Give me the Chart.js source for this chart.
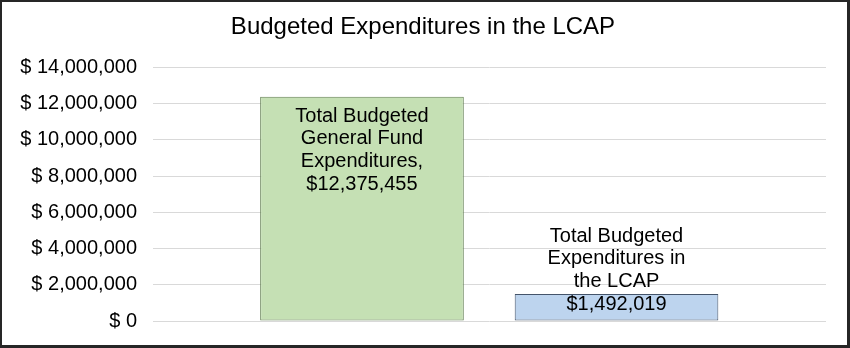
<!DOCTYPE html>
<html>
<head>
<meta charset="utf-8">
<script src="https://cdn.jsdelivr.net/npm/chart.js@4"></script>
<style>
  html, body { margin: 0; padding: 0; background: #fff; }
  #wrap {
    position: relative;
    width: 850px;
    height: 348px;
    box-sizing: border-box;
    border-style: solid;
    border-color: #262626;
    border-width: 2px 3px 3px 2px;
  }
</style>
</head>
<body>
<div id="wrap"><canvas id="myChart"></canvas></div>
<script>
// data
const categories = [
  ['Total Budgeted', 'General Fund', 'Expenditures,'],
  ['Total Budgeted', 'Expenditures in', 'the LCAP']
];
const amounts = [12375455, 1492019];
const yTicks = [0, 2000000, 4000000, 6000000, 8000000, 10000000, 12000000, 14000000];

const money = v => '$' + v.toLocaleString('en-US');

Chart.defaults.font.family = '"Liberation Sans", Arial, sans-serif';
Chart.defaults.color = '#000';

// labels written on the bars, the way the spreadsheet puts them
const barText = {
  id: 'barText',
  afterDatasetsDraw(chart) {
    const ctx = chart.ctx;
    const meta = chart.getDatasetMeta(0);
    const lh = 22.7;
    ctx.save();
    ctx.font = '20px "Liberation Sans", Arial, sans-serif';
    ctx.fillStyle = '#000';
    ctx.textAlign = 'center';
    ctx.textBaseline = 'middle';
    meta.data.forEach((bar, i) => {
      const lines = categories[i].concat([money(amounts[i])]);
      const h = lines.length * lh;
      let top = bar.y + 8;
      if (top + h > bar.base - 4) top = bar.base - 5 - h;
      lines.forEach((t, j) => ctx.fillText(t, bar.x, top + lh * j + lh / 2));
    });
    ctx.restore();
  }
};

new Chart(document.getElementById('myChart'), {
  type: 'bar',
  data: {
    datasets: [{
      label: 'Budgeted Expenditures',
      data: amounts.map((v, i) => ({ x: i + 1, y: v })),
      backgroundColor: ['#c5e0b4', '#bdd4ee'],
      borderColor: ['#627f52', '#44546a'],
      borderWidth: 1,
      borderSkipped: false,
      categoryPercentage: 1,
      barPercentage: 0.8
    }]
  },
  options: {
    responsive: true,
    maintainAspectRatio: false,
    animation: false,
    layout: {
      padding: { left: 18, right: 21, top: 0, bottom: 24 }
    },
    scales: {
      x: {
        type: 'linear',
        display: false,
        min: 0.179,
        max: 2.823,
        afterBuildTicks: s => { s.ticks = []; }
      },
      y: {
        min: 0,
        max: 14000000,
        afterBuildTicks: s => { s.ticks = yTicks.map(v => ({ value: v })); },
        afterFit: s => { s.width = 133; },
        border: { display: false },
        grid: { color: '#d9d9d9', lineWidth: 1, tickLength: 12, tickColor: 'rgba(0,0,0,0)' },
        ticks: {
          padding: 4,
          font: { size: 20 },
          color: '#000',
          callback: v => '$ ' + v.toLocaleString('en-US')
        }
      }
    },
    plugins: {
      legend: { display: false },
      tooltip: { enabled: false },
      title: {
        display: true,
        text: 'Budgeted Expenditures in the LCAP',
        color: '#000',
        font: { size: 24, weight: 'normal' },
        padding: { top: 11, bottom: 25.5 }
      }
    }
  },
  plugins: [barText]
});
</script>
</body>
</html>
